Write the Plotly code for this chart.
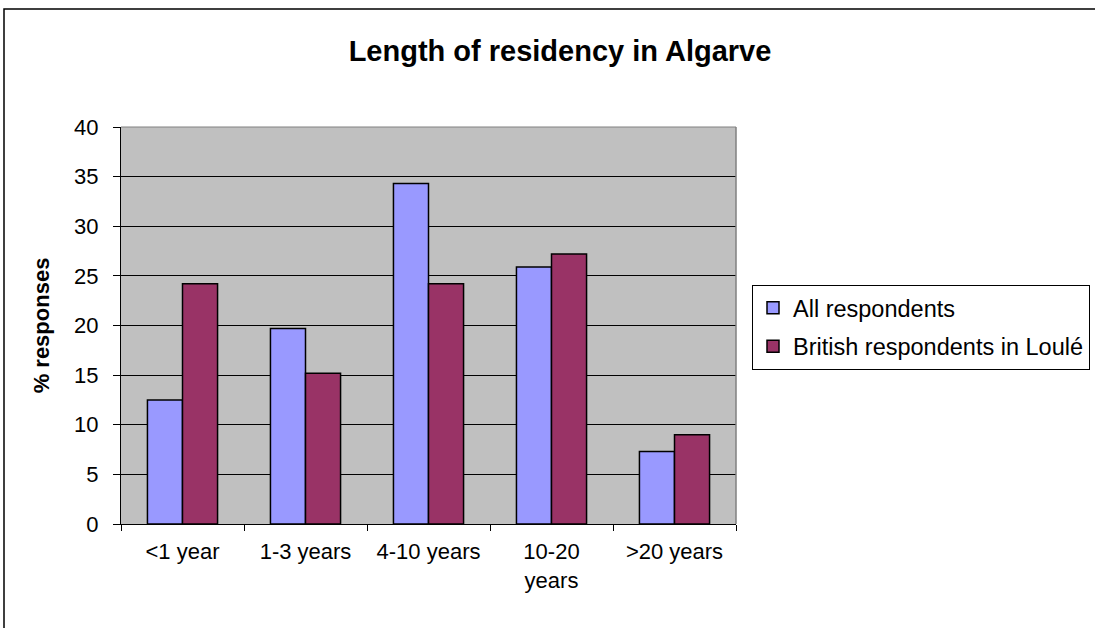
import plotly.graph_objects as go

categories = ["<1 year", "1-3 years", "4-10 years", "10-20<br>years", ">20 years"]
all_resp = [12.5, 19.7, 34.3, 25.9, 7.3]
british_loule = [24.2, 15.2, 24.2, 27.2, 9.0]
y_ticks = [0, 5, 10, 15, 20, 25, 30, 35, 40]

font_family = "Liberation Sans, Arial, sans-serif"

fig = go.Figure()
fig.add_trace(go.Bar(
    x=categories, y=all_resp, name="All respondents",
    marker=dict(color="#9999FF", line=dict(color="black", width=1.5)),
    legendgroup="a",
))
fig.add_trace(go.Bar(
    x=categories, y=british_loule, name="British respondents in Loulé",
    marker=dict(color="#993366", line=dict(color="black", width=1.5)),
    legendgroup="b",
))

L, R, T, B = 121, 736, 127, 524
W, H = 1095, 628
pw, ph = R - L, B - T

fig.update_layout(
    width=W, height=H,
    margin=dict(l=L, r=W - R, t=T, b=H - B, autoexpand=False),
    paper_bgcolor="white",
    plot_bgcolor="#C0C0C0",
    barmode="group",
    bargap=0.43,
    bargroupgap=0,
    font=dict(family=font_family, size=22, color="black"),
    title=dict(text="<b>Length of residency in Algarve</b>", x=560 / W, xanchor="center",
               y=1 - 51 / H, yanchor="middle", font=dict(size=29, family=font_family)),
    legend=dict(
        x=(752 - L) / pw, xanchor="left", y=(B - 285) / ph, yanchor="top",
        bordercolor="black", borderwidth=1, bgcolor="white",
        font=dict(size=23.5), traceorder="grouped", tracegroupgap=5,
    ),
    xaxis=dict(
        showline=True, linecolor="black", linewidth=1,
        ticks="outside", tickson="boundaries", ticklen=6, tickcolor="black",
        showgrid=False, tickfont=dict(size=22), ticklabelstandoff=8,
    ),
    yaxis=dict(
        range=[0, 40], tickvals=y_ticks,
        showline=True, linecolor="black", linewidth=1,
        ticks="outside", ticklen=7, tickcolor="black",
        showgrid=True, gridcolor="black", gridwidth=1,
        zeroline=False, tickfont=dict(size=22), ticklabelstandoff=10,
        title=dict(text="<b>% responses</b>", font=dict(size=22), standoff=18),
    ),
    shapes=[
        dict(type="line", xref="paper", yref="paper", x0=1, x1=1, y0=0, y1=1,
             line=dict(color="#808080", width=1.5)),
        dict(type="line", xref="paper", yref="paper", x0=0, x1=1, y0=1, y1=1,
             line=dict(color="#808080", width=1)),
        dict(type="rect", xref="paper", yref="paper",
             x0=(4 - L) / pw, x1=(1400 - L) / pw, y0=(B - 900) / ph, y1=(B - 9) / ph,
             line=dict(color="black", width=1.5), layer="below"),
    ],
)

fig.write_html("out.html", config={"displayModeBar": False},
               post_script="document.body.style.margin='0px';")
